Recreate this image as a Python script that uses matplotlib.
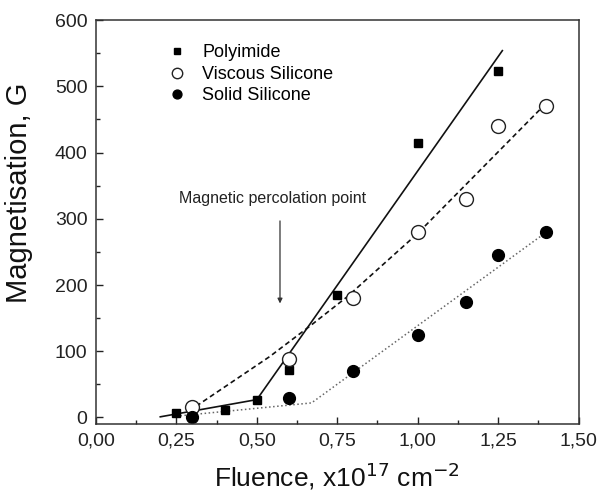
import matplotlib
matplotlib.use("Agg")
import matplotlib.pyplot as plt
from matplotlib.ticker import MultipleLocator, FuncFormatter

plt.rcParams['font.family'] = ['Liberation Sans', 'DejaVu Sans']

# Datos
poly_x = [0.25, 0.40, 0.50, 0.60, 0.75, 1.00, 1.25]
poly_y = [7, 12, 26, 71, 185, 415, 523]

visc_x = [0.30, 0.60, 0.80, 1.00, 1.15, 1.25, 1.40]
visc_y = [16, 89, 180, 280, 330, 440, 470]

solid_x = [0.30, 0.60, 0.80, 1.00, 1.15, 1.25, 1.40]
solid_y = [0, 29, 70, 125, 175, 245, 280]

# Rectas de ajuste (puntos leidos)
poly_fit_x = [0.20, 0.50, 1.263]
poly_fit_y = [1, 27, 554]
visc_fit_x = [0.29, 0.54, 0.665, 0.78, 1.00, 1.40]
visc_fit_y = [10, 92, 138, 182, 278, 475]
solid_fit_x = [0.25, 0.67, 1.40]
solid_fit_y = [2, 22, 280]

fig = plt.figure(figsize=(6.11, 4.92), dpi=100)
ax = fig.add_axes([0.157, 0.138, 0.79, 0.821])

ax.plot(poly_fit_x, poly_fit_y, '-', color='#111111', lw=1.2)
ax.plot(visc_fit_x, visc_fit_y, '--', color='#111111', lw=1.2, dashes=(3, 2))
ax.plot(solid_fit_x, solid_fit_y, ':', color='#666666', lw=1.1)

ax.plot(poly_x, poly_y, 's', color='black', ms=5.5, ls='none', label='Polyimide')
ax.plot(visc_x, visc_y, 'o', mfc='white', mec='#222222', mew=1.0, ms=10, ls='none',
        label='Viscous Silicone')
ax.plot(solid_x, solid_y, 'o', color='black', ms=8.5, ls='none', label='Solid Silicone')

ax.annotate('', xy=(0.572, 168), xytext=(0.572, 301),
            arrowprops=dict(arrowstyle='-|>', color='#333333', lw=0.9,
                            mutation_scale=7))
ax.text(0.548, 331, 'Magnetic percolation point', ha='center', va='center',
        fontsize=11.5, color='#222222')

ax.set_xlim(0, 1.5)
ax.set_ylim(-10, 600)
ax.xaxis.set_major_locator(MultipleLocator(0.25))
ax.xaxis.set_minor_locator(MultipleLocator(0.125))
ax.yaxis.set_major_locator(MultipleLocator(100))
ax.yaxis.set_minor_locator(MultipleLocator(50))
ax.xaxis.set_major_formatter(FuncFormatter(lambda v, p: f"{v:.2f}".replace('.', ',')))

ax.tick_params(which='both', direction='in', top=False, right=False, colors='#222222')
ax.tick_params(which='major', length=5, width=1, labelsize=14, pad=6)
ax.tick_params(which='minor', length=3, width=1)
for s in ax.spines.values():
    s.set_linewidth(1.1)
    s.set_color('#333333')

ax.set_xlabel(r'Fluence, x10$^{17}$ cm$^{-2}$', fontsize=19, color='#111111', labelpad=8)
ax.set_ylabel('Magnetisation, G', fontsize=21, color='#111111')
ax.yaxis.set_label_coords(-0.13, 0.572)

leg = ax.legend(loc='upper left', bbox_to_anchor=(0.149, 0.94), frameon=False,
                fontsize=13, handlelength=1.0, handletextpad=0.9,
                labelspacing=0.25, markerscale=0.75, borderaxespad=0, borderpad=0)

fig.savefig('out.png', dpi=100)
